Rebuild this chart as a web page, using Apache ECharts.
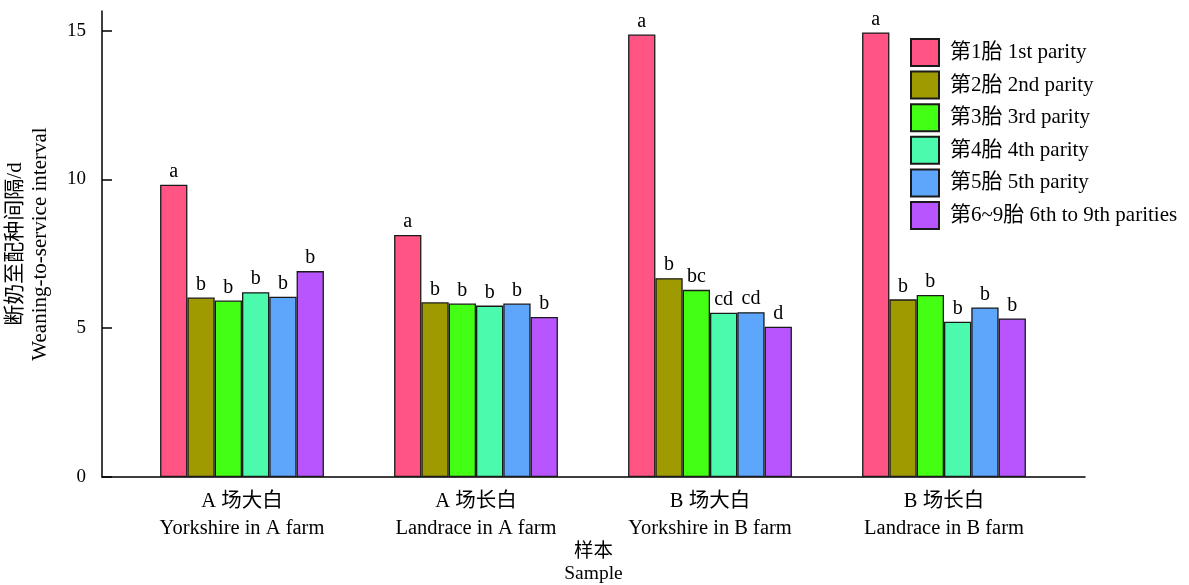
<!DOCTYPE html>
<html>
<head>
<meta charset="utf-8">
<script src="https://cdn.jsdelivr.net/npm/echarts@6/dist/echarts.min.js"></script>
<style>
  html, body { margin: 0; padding: 0; background: #fff; }
  #chart { width: 1189px; height: 585px; }
</style>
</head>
<body>
<div id="chart"></div>
<script>
// 样本（分类）
var groupsCn = ['A 场大白', 'A 场长白', 'B 场大白', 'B 场长白']
var groupsEn = ['Yorkshire in A farm', 'Landrace in A farm', 'Yorkshire in B farm', 'Landrace in B farm']
// 胎次
var parities = ['第1胎 1st parity', '第2胎 2nd parity', '第3胎 3rd parity', '第4胎 4th parity', '第5胎 5th parity', '第6~9胎 6th to 9th parities']
// 断奶至配种间隔/d，每个胎次一组
var parity1 = [9.82, 8.13, 14.87, 14.94]
var parity2 = [6.03, 5.87, 6.68, 5.97]
var parity3 = [5.93, 5.83, 6.29, 6.12]
var parity4 = [6.21, 5.76, 5.52, 5.22]
var parity5 = [6.06, 5.83, 5.54, 5.70]
var parity6 = [6.92, 5.38, 5.05, 5.33]
// 显著性字母
var letters1 = ['a', 'a', 'a', 'a']
var letters2 = ['b', 'b', 'b', 'b']
var letters3 = ['b', 'b', 'bc', 'b']
var letters4 = ['b', 'b', 'cd', 'b']
var letters5 = ['b', 'b', 'cd', 'b']
var letters6 = ['b', 'b', 'd', 'b']
var yTicks = [0, 5, 10, 15]

var values = [parity1, parity2, parity3, parity4, parity5, parity6]
var letters = [letters1, letters2, letters3, letters4, letters5, letters6]
var colors = ['#FF5484', '#9E9A00', '#43FF14', '#4CFAAE', '#5EA5FC', '#B955FF']
var font = '"Liberation Serif", "Noto Sans CJK SC", serif'
var yMax = 15.66

var categories = groupsCn.map(function (c, i) { return c + '\n' + groupsEn[i] })

var series = values.map(function (arr, k) {
  return {
    name: parities[k],
    type: 'bar',
    xAxisIndex: 0,
    yAxisIndex: 0,
    barWidth: 27.3,
    barGap: '0%',
    itemStyle: { color: colors[k], borderColor: '#1a1a1a', borderWidth: 1.3 },
    label: {
      show: true,
      position: 'top',
      distance: 3,
      color: '#000',
      fontFamily: font,
      fontSize: 20,
      formatter: function (p) { return letters[k][p.dataIndex] }
    },
    data: arr
  }
})

var chart = echarts.init(document.getElementById('chart'))
chart.setOption({
  animation: false,
  textStyle: { fontFamily: font },
  legend: {
    orient: 'vertical',
    left: 905,
    top: 33,
    itemWidth: 28,
    itemHeight: 27,
    itemGap: 3.6,
    icon: 'rect',
    textStyle: { fontFamily: font, fontSize: 21, color: '#000', padding: [0, 0, 0, 6] },
    data: parities
  },
  grid: [
    // 柱子
    { left: 125, right: 128, top: 11, bottom: 108, outerBoundsMode: 'none' },
    // 坐标轴框
    { left: 102, right: 104, top: 11, bottom: 108, outerBoundsMode: 'none' }
  ],
  xAxis: [
    {
      type: 'category',
      gridIndex: 0,
      data: categories,
      axisLine: { show: false },
      axisTick: { show: false },
      axisLabel: { fontFamily: font, fontSize: 20.5, color: '#000', lineHeight: 27, margin: 11 }
    },
    {
      type: 'value',
      gridIndex: 1,
      min: 0,
      max: 1,
      axisLine: { show: true, lineStyle: { color: '#000', width: 1.5 } },
      axisTick: { show: false },
      axisLabel: { show: false },
      splitLine: { show: false },
      name: '样本\nSample',
      nameLocation: 'middle',
      nameGap: 64,
      nameTextStyle: { fontFamily: font, fontSize: 19.5, color: '#000', lineHeight: 22, verticalAlign: 'top' }
    }
  ],
  yAxis: [
    {
      type: 'value',
      gridIndex: 0,
      min: 0,
      max: yMax,
      show: false,
      splitLine: { show: false }
    },
    {
      type: 'value',
      gridIndex: 1,
      min: 0,
      max: yMax,
      axisLine: { show: true, lineStyle: { color: '#000', width: 1.5 } },
      axisTick: { show: true, inside: true, length: 10, customValues: yTicks, lineStyle: { color: '#000', width: 1.5 } },
      axisLabel: { customValues: yTicks, fontFamily: font, fontSize: 19, color: '#000', margin: 16 },
      splitLine: { show: false },
      name: '断奶至配种间隔/d\nWeaning-to-service interval',
      nameLocation: 'middle',
      nameGap: 49,
      nameTextStyle: { fontFamily: font, fontSize: 21, color: '#000', lineHeight: 25 }
    }
  ],
  series: series
})
</script>
</body>
</html>
